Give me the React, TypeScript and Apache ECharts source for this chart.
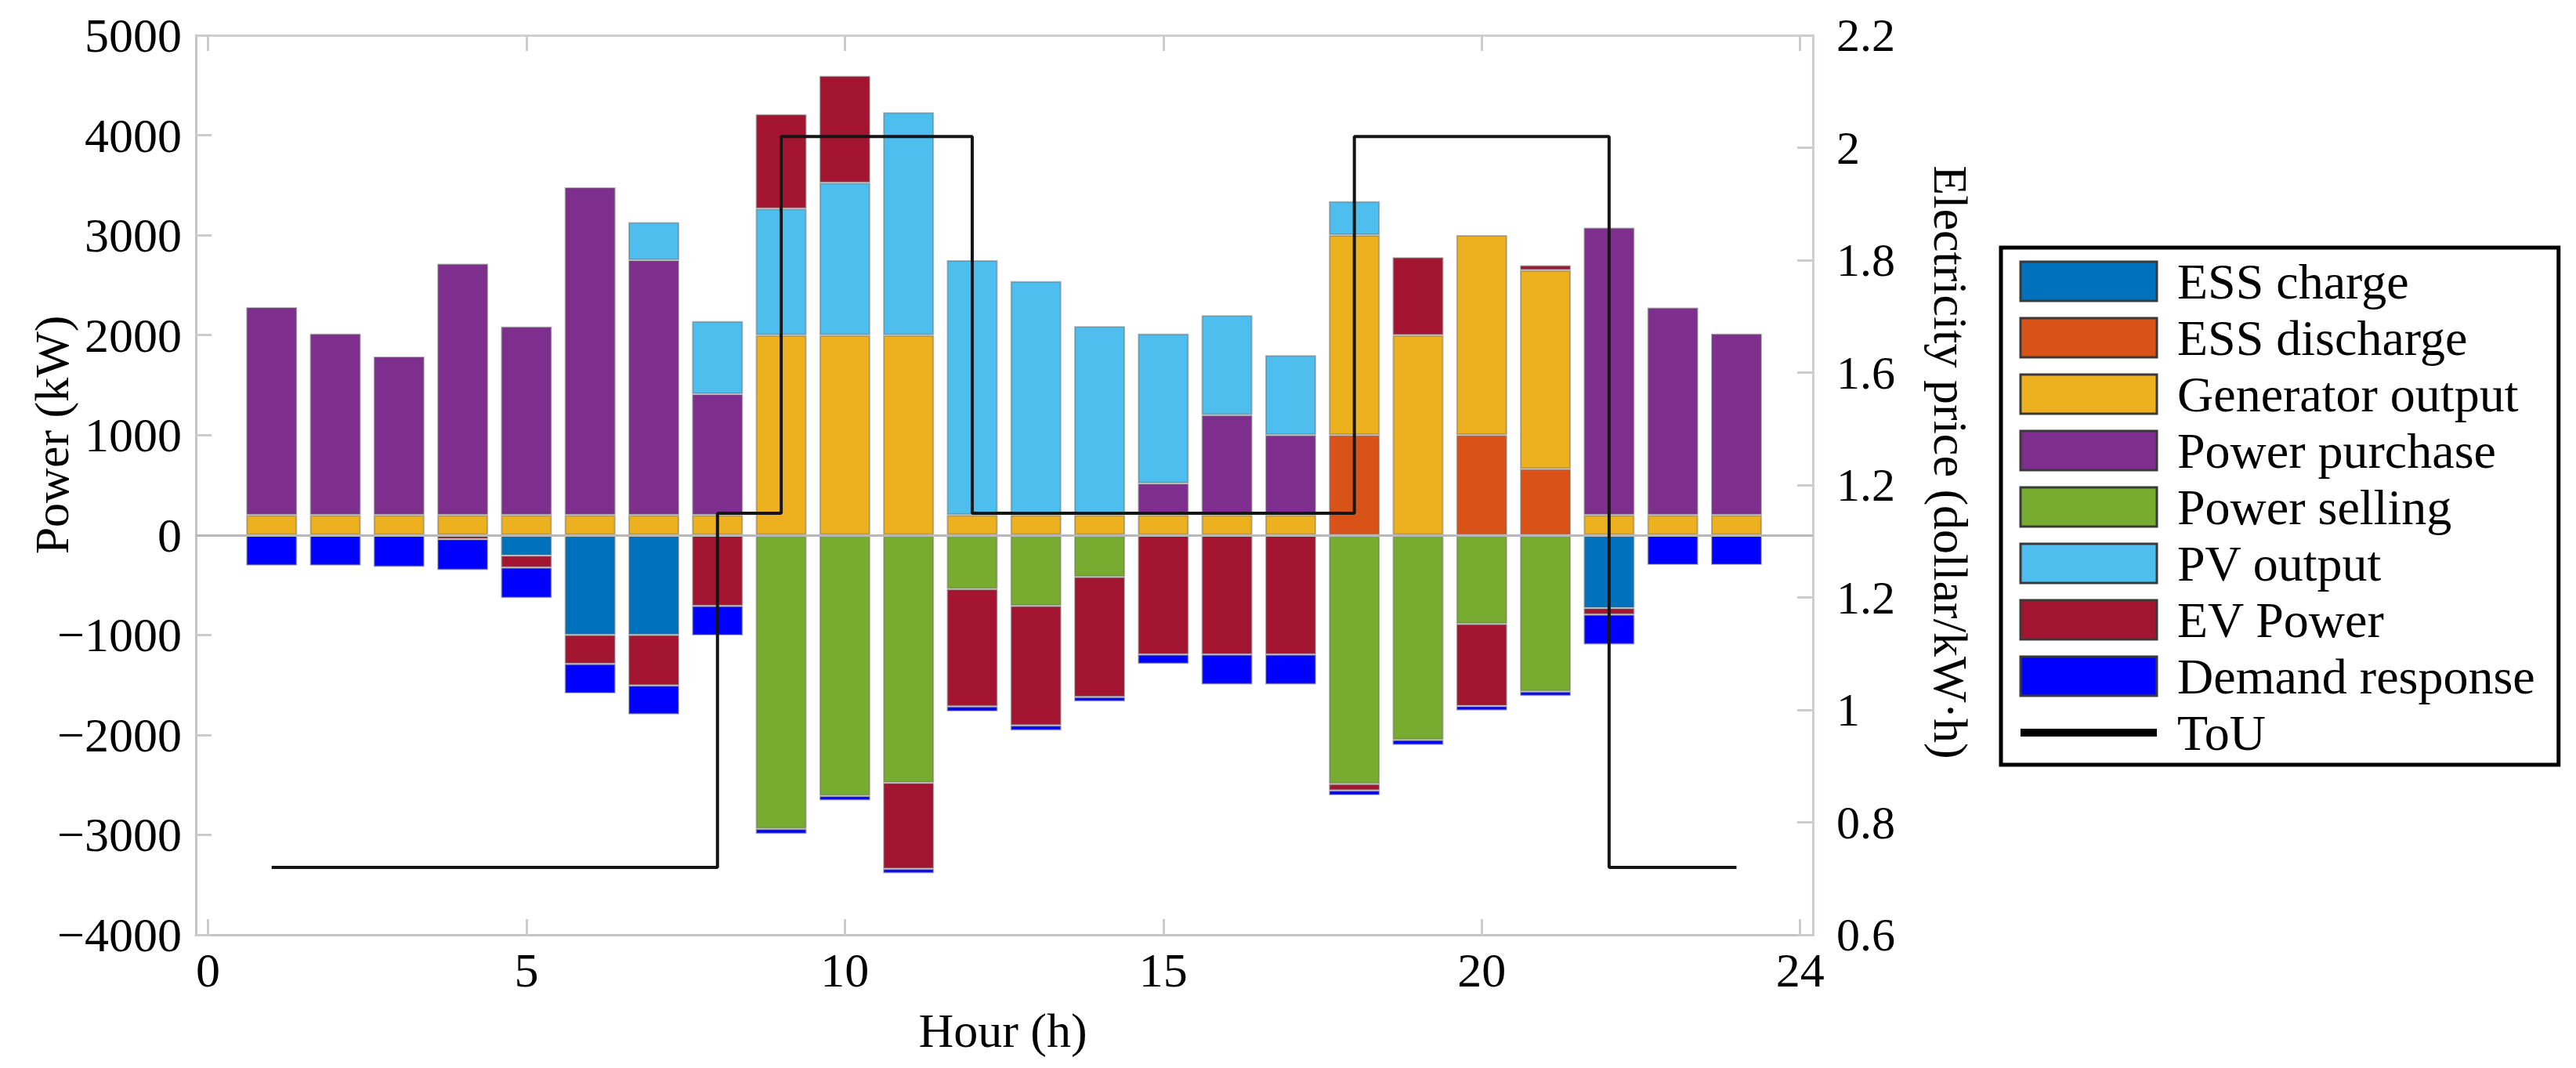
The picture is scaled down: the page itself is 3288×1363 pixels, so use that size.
import React, { useEffect, useRef } from "react";
import * as echarts from "echarts";

// ---- Data (hours 1..24) ----
const hours = [1, 2, 3, 4, 5, 6, 7, 8, 9, 10, 11, 12, 13, 14, 15, 16, 17, 18, 19, 20, 21, 22, 23, 24];

const essCharge = [null, null, null, null, -205, -1000, -1000, null, null, null, null, null, null, null, null, null, null, null, null, null, null, -730, null, null];
const essDischarge = [null, null, null, null, null, null, null, null, null, null, null, null, null, null, null, null, null, 1000, null, 1000, 660, null, null, null];
const generatorOutput = [200, 200, 200, 200, 200, 200, 200, 200, 2000, 2000, 2000, 200, 200, 200, 200, 200, 200, 2000, 2000, 2000, 1990, 200, 200, 200];
const powerPurchase = [2080, 1815, 1585, 2515, 1885, 3280, 2550, 1210, null, null, null, null, null, null, 315, 1000, 800, null, null, null, null, 2875, 2075, 1815];
const powerSelling = [null, null, null, null, null, null, null, null, -2940, -2610, -2480, -540, -710, -420, null, null, null, -2490, -2050, -890, -1565, null, null, null];
const pvOutput = [null, null, null, null, null, null, 380, 730, 1265, 1525, 2230, 2550, 2340, 1890, 1500, 1000, 800, 340, null, null, null, null, null, null];
const evPower = [null, null, null, -40, -120, -290, -505, -710, 945, 1070, -860, -1175, -1195, -1200, -1195, -1195, -1195, -65, 780, -820, 50, -65, null, null];
const demandResponse = [-305, -305, -320, -310, -305, -295, -290, -295, -50, -45, -45, -50, -50, -45, -95, -300, -300, -50, -50, -45, -45, -300, -300, -300];
const touPrice = [0.72, 0.72, 0.72, 0.72, 0.72, 0.72, 0.72, 1.35, 2.02, 2.02, 2.02, 1.35, 1.35, 1.35, 1.35, 1.35, 1.35, 2.02, 2.02, 2.02, 2.02, 0.72, 0.72, 0.72];

const xTickValues = [0, 5, 10, 15, 20, 25];
const xTickLabels = ["0", "5", "10", "15", "20", "24"];
const rightTickLabels = ["0.6", "0.8", "1", "1.2", "1.2", "1.6", "1.8", "2", "2.2"];

const barSeriesDefs = [
  { name: "ESS charge", data: essCharge, color: "#0072BD" },
  { name: "ESS discharge", data: essDischarge, color: "#D95319" },
  { name: "Generator output", data: generatorOutput, color: "#EDB120" },
  { name: "Power purchase", data: powerPurchase, color: "#7E2F8E" },
  { name: "Power selling", data: powerSelling, color: "#77AC30" },
  { name: "PV output", data: pvOutput, color: "#4DBEEE" },
  { name: "EV Power", data: evPower, color: "#A2142F" },
  { name: "Demand response", data: demandResponse, color: "#0000FF" },
];

const FONT = "'Liberation Serif', 'Times New Roman', serif";

export default function App() {
  const ref = useRef<HTMLDivElement>(null);

  useEffect(() => {
    if (!ref.current) return;
    const chart = echarts.init(ref.current, null, { renderer: "svg" });

    // value first, hour second, so that the value dimension is the stacked one
    const pairs = (arr: (number | null)[]) =>
      hours.map((h, i) => [arr[i] == null ? "-" : arr[i], h]);

    const barSeries: any[] = barSeriesDefs.map((d, idx) => ({
      name: d.name,
      type: "bar",
      stack: "power",
      xAxisIndex: 0,
      yAxisIndex: 0,
      barWidth: 65,
      encode: { x: 1, y: 0 },
      data: pairs(d.data),
      itemStyle: {
        color: d.color,
        borderColor: "rgba(100,100,100,0.45)",
        borderWidth: 2,
      },
      markLine:
        idx === 0
          ? {
              silent: true,
              symbol: "none",
              label: { show: false },
              lineStyle: { color: "#b8b8b8", width: 3, type: "solid" },
              data: [{ yAxis: 0 }],
            }
          : undefined,
    }));

    const touSeries = {
      name: "ToU",
      type: "line",
      step: "end",
      xAxisIndex: 0,
      yAxisIndex: 1,
      symbol: "none",
      showSymbol: false,
      z: 10,
      data: hours.map((h, i) => [h, touPrice[i]]),
      lineStyle: { color: "#151515", width: 4 },
      itemStyle: { color: "#000" },
    };

    const axisLineGray = { show: true, onZero: false, lineStyle: { color: "#c4c4c4", width: 3 } };
    const tickGray = { color: "#cccccc", width: 3 };

    const option: any = {
      animation: false,
      backgroundColor: "#ffffff",
      grid: {
        left: 250,
        right: 974,
        top: 45,
        bottom: 170,
        outerBoundsMode: "none",
        containLabel: false,
      },
      legend: {
        orient: "vertical",
        left: 2554,
        top: 316,
        padding: [11, 30, 9, 20],
        borderColor: "#000",
        borderWidth: 5,
        backgroundColor: "#fff",
        itemWidth: 174,
        itemHeight: 50,
        itemGap: 8,
        selectedMode: false,
        textStyle: {
          fontFamily: FONT,
          fontSize: 64,
          color: "#000",
          padding: [0, 0, 0, 21],
        },
        data: [
          ...barSeriesDefs.map((d) => ({
            name: d.name,
            icon: "rect",
            itemStyle: { borderColor: "#3a3a3a", borderWidth: 3 },
          })),
          { name: "ToU", itemStyle: { opacity: 0 }, lineStyle: { width: 10, color: "#000" } },
        ],
      },
      xAxis: [
        {
          type: "value",
          position: "bottom",
          min: -0.19,
          max: 25.2,
          axisLine: axisLineGray,
          axisTick: { show: true, inside: true, length: 20, customValues: xTickValues, lineStyle: tickGray },
          axisLabel: {
            customValues: xTickValues,
            formatter: (v: number) => {
              const i = xTickValues.indexOf(Math.round(v));
              return i >= 0 ? xTickLabels[i] : "";
            },
            margin: 14,
            fontFamily: FONT,
            fontSize: 62,
            color: "#000",
          },
          splitLine: { show: false },
        },
        {
          type: "value",
          position: "top",
          min: -0.19,
          max: 25.2,
          axisLine: { show: true, onZero: false, lineStyle: { color: "#d0d0d0", width: 3 } },
          axisTick: { show: true, inside: true, length: 20, customValues: xTickValues, lineStyle: tickGray },
          axisLabel: { show: false },
          splitLine: { show: false },
        },
      ],
      yAxis: [
        {
          type: "value",
          position: "left",
          min: -4000,
          max: 5000,
          interval: 1000,
          axisLine: axisLineGray,
          axisTick: { show: true, inside: true, length: 20, lineStyle: tickGray },
          axisLabel: {
            formatter: (v: number) => (v < 0 ? "\u2212" + Math.abs(v) : String(v)),
            margin: 18,
            fontFamily: FONT,
            fontSize: 62,
            color: "#000",
          },
          splitLine: { show: false },
        },
        {
          type: "value",
          position: "right",
          min: 0.6,
          max: 2.2,
          interval: 0.2,
          axisLine: { show: true, onZero: false, lineStyle: { color: "#d6cccc", width: 3 } },
          axisTick: { show: true, inside: true, length: 20, lineStyle: tickGray },
          axisLabel: {
            formatter: (v: number) => {
              const i = Math.round((v - 0.6) / 0.2);
              return rightTickLabels[i] ?? "";
            },
            margin: 30,
            fontFamily: FONT,
            fontSize: 60,
            color: "#000",
          },
          splitLine: { show: false },
        },
      ],
      graphic: [
        {
          type: "text",
          x: 66,
          y: 555,
          rotation: Math.PI / 2,
          style: {
            text: "Power (kW)",
            fontFamily: FONT,
            fontSize: 62,
            fill: "#000",
            align: "center",
            verticalAlign: "middle",
            textAlign: "center",
            textVerticalAlign: "middle",
          },
        },
        {
          type: "text",
          x: 1280,
          y: 1315,
          style: {
            text: "Hour (h)",
            fontFamily: FONT,
            fontSize: 62,
            fill: "#000",
            align: "center",
            verticalAlign: "middle",
            textAlign: "center",
            textVerticalAlign: "middle",
          },
        },
        {
          type: "text",
          x: 2490,
          y: 590,
          rotation: -Math.PI / 2,
          style: {
            text: "Electricity price (dollar/kW\u00b7h)",
            fontFamily: FONT,
            fontSize: 62,
            fill: "#000",
            align: "center",
            verticalAlign: "middle",
            textAlign: "center",
            textVerticalAlign: "middle",
          },
        },
      ],
      series: [...barSeries, touSeries],
    };

    chart.setOption(option);
    return () => {
      chart.dispose();
    };
  }, []);

  return (
    <div
      ref={ref}
      style={{ position: "fixed", left: 0, top: 0, width: 3288, height: 1363, background: "#fff" }}
    />
  );
}
